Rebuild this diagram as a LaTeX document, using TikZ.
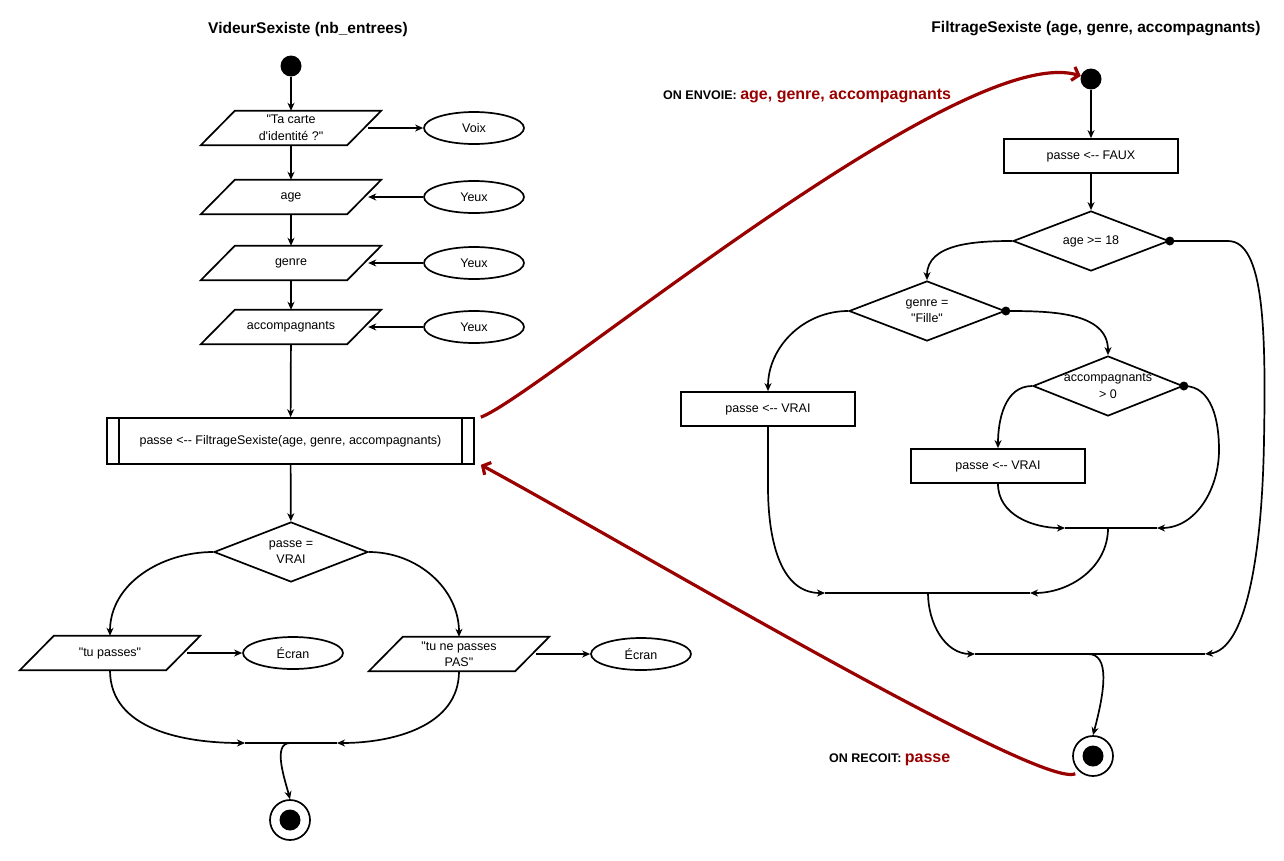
\documentclass[tikz,border=0pt]{standalone}
\usepackage{fontspec}
\setmainfont{Liberation Sans}[Ligatures=TeXOff]
\usetikzlibrary{shapes.geometric,arrows.meta}
\definecolor{dred}{HTML}{990000}
\newcommand\nodefont{\fontsize{12.5pt}{16.5pt}\selectfont}
\begin{document}
\begin{tikzpicture}[x=1pt,y=-1pt,
  every node/.style={font=\nodefont},
  ln/.style={line width=1.7pt},
  arr/.style={ln,-{Stealth[length=8pt,width=7pt,inset=2.5pt]}},
  para/.style={minimum width=146pt,minimum height=34pt,inner sep=0pt,align=center,
    append after command={\pgfextra{\draw[ln,line join=miter]
      ([xshift=17pt]\tikzlastnode.north west) -- ([xshift=17pt]\tikzlastnode.north east) --
      ([xshift=-17pt]\tikzlastnode.south east) -- ([xshift=-17pt]\tikzlastnode.south west) -- cycle;}}},
  oval/.style={ellipse,draw,ln,minimum width=100pt,minimum height=32pt,inner sep=0pt},
  box/.style={rectangle,draw,ln,minimum width=174pt,minimum height=34pt,inner sep=0pt},
  dia/.style={diamond,draw,ln,inner sep=0pt},
  lbl/.style={align=center,inner sep=0pt},
  startdot/.style={circle,fill=black,minimum size=21pt,inner sep=0pt},
  enddot/.style={circle,draw,ln,minimum size=40pt,inner sep=0pt,
    path picture={\fill[black] (path picture bounding box.center) circle (10.5pt);}},
  bdot/.style={circle,fill=black,minimum size=9pt,inner sep=0pt},
  sendline/.style={line width=3.2pt,draw=dred,-{Straight Barb[length=6pt,width=14pt]}},
  ttl/.style={font=\fontsize{15.5pt}{18pt}\selectfont\bfseries}
]
\useasboundingbox (0,0) rectangle (1284,860);

% ---------- left: VideurSexiste ----------
\node[ttl] (t1) at (308,29) {VideurSexiste (nb\_entrees)};
\node[startdot] (s1) at (291,66) {};
\node[para] (p1) at (291,128) {"Ta carte\\d'identité ?"};
\node[para] (p2) at (291,197) {age};
\node[para] (p3) at (291,263) {genre};
\node[para] (p4) at (291,327) {accompagnants};
\node[oval] (o1) at (474,128) {Voix};
\node[oval] (o2) at (474,197) {Yeux};
\node[oval] (o3) at (474,263) {Yeux};
\node[oval] (o4) at (474,327) {Yeux};
\node[draw,ln,minimum width=367pt,minimum height=46pt,inner sep=0pt] (sub) at (290.5,441)
  {passe <-- FiltrageSexiste(age, genre, accompagnants)};
\draw[ln] ([xshift=13pt]sub.north west) -- ([xshift=13pt]sub.south west);
\draw[ln] ([xshift=-13pt]sub.north east) -- ([xshift=-13pt]sub.south east);
\node[dia,minimum width=154pt,minimum height=60pt,label={[lbl]center:passe =\\VRAI}] (d1) at (291,552) {};
\node[para] (tu) at (110,653) {"tu passes"};
\node[para] (tn) at (459,654) {"tu ne passes\\PAS"};
\node[oval] (e1) at (293,653) {Écran};
\node[oval] (e2) at (641,654) {Écran};
\coordinate (jL) at (245,743);
\coordinate (jR) at (337,743);
\coordinate (jC) at (290,743);
\node[enddot] (fin1) at (290,820) {};

\draw[arr] (s1) -- (p1);
\draw[arr] (p1) -- (p2);
\draw[arr] (p2) -- (p3);
\draw[arr] (p3) -- (p4);
\draw[arr] ([xshift=4pt]p1.east) -- (o1);
\draw[arr] (o2) -- ([xshift=4pt]p2.east);
\draw[arr] (o3) -- ([xshift=4pt]p3.east);
\draw[arr] (o4) -- ([xshift=4pt]p4.east);
\draw[arr] (p4) -- (sub);
\draw[arr] (sub) -- (d1);
\draw[arr] (d1.west) to[out=180,in=90] (tu.north);
\draw[arr] (d1.east) to[out=0,in=90] (tn.north);
\draw[arr] ([xshift=4pt]tu.east) -- (e1);
\draw[arr] ([xshift=4pt]tn.east) -- (e2);
\draw[arr] (tu.south) to[out=-90,in=180] (jL);
\draw[arr] (tn.south) to[out=-90,in=0] (jR);
\draw[ln] (jL) -- (jR);
\draw[arr] (jC) .. controls (272,743) and (285,780) .. (fin1.north);

% ---------- right: FiltrageSexiste ----------
\node[ttl] (t2) at (1096,29) {FiltrageSexiste (age, genre, accompagnants)};
\node[startdot] (s2) at (1091,79) {};
\node[box] (b0) at (1091,156) {passe <-- FAUX};
\node[dia,minimum width=156pt,minimum height=60pt,label={[lbl]center:age >= 18}] (d2) at (1091,241) {};
\node[bdot] (k2) at (d2.east) {};
\node[dia,minimum width=156pt,minimum height=60pt,label={[lbl]center:genre =\\"Fille"}] (d3) at (927,311) {};
\node[bdot] (k3) at (d3.east) {};
\node[dia,minimum width=150pt,minimum height=60pt,label={[lbl]center:accompagnants\\> 0}] (d4) at (1108,386) {};
\node[bdot] (k4) at (d4.east) {};
\node[box] (v1) at (768,409) {passe <-- VRAI};
\node[box] (v2) at (998,466) {passe <-- VRAI};
\coordinate (a1) at (1065,528);
\coordinate (a2) at (1157,528);
\coordinate (a3) at (1108,528);
\coordinate (b1) at (825,593);
\coordinate (b2) at (1030,593);
\coordinate (b3) at (928,593);
\coordinate (c1) at (975,654);
\coordinate (c2) at (1205,654);
\coordinate (c3) at (1088,654);
\node[enddot] (fin2) at (1093,756) {};

\draw[arr] (s2) -- (b0);
\draw[arr] (b0) -- (d2);
\draw[arr] (d2.west) to[out=180,in=90] (d3.north);
\draw[arr] (k3.center) to[out=0,in=90] (d4.north);
\draw[arr] (d3.west) to[out=180,in=90] (v1.north);
\draw[arr] (d4.west) to[out=180,in=90] (v2.north);
\draw[arr] (v2.south) to[out=-90,in=180] (a1);
\draw[arr] (k4.center) to[out=0,in=90] (1219,450) to[out=-90,in=0] (a2);
\draw[ln] (a1) -- (a2);
\draw[arr] (v1.south) -- ++(0,60) to[out=-90,in=180] (b1);
\draw[arr] (a3) to[out=-90,in=0] (b2);
\draw[ln] (b1) -- (b2);
\draw[arr] (b3) to[out=-90,in=180] (c1);
\draw[arr] (k2.center) -- (1228,241) .. controls (1264,241) and (1266,330) .. (1264,440)
  .. controls (1262,560) and (1245,650) .. (c2);
\draw[ln] (c1) -- (c2);
\draw[arr] (c3) .. controls (1110,654) and (1105,690) .. (fin2.north);

% ---------- red exchanges ----------
\draw[sendline] ([xshift=6pt]sub.north east) .. controls (540,395) and (960,40) .. (s2);
\draw[sendline] ([shift={(-3,3)}]fin2.-135) .. controls (1040,790) and (620,540) .. ([xshift=6pt]sub.south east);
\node[anchor=base west,inner sep=0pt] (lab1) at (663,99)
  {{\fontsize{12.5pt}{15pt}\selectfont\bfseries ON ENVOIE: }{\color{dred}\fontsize{16pt}{19pt}\selectfont\bfseries age, genre, accompagnants}};
\node[anchor=base west,inner sep=0pt] (lab2) at (829,762)
  {{\fontsize{12.5pt}{15pt}\selectfont\bfseries ON RECOIT: }{\color{dred}\fontsize{16pt}{19pt}\selectfont\bfseries passe}};
\end{tikzpicture}
\end{document}
